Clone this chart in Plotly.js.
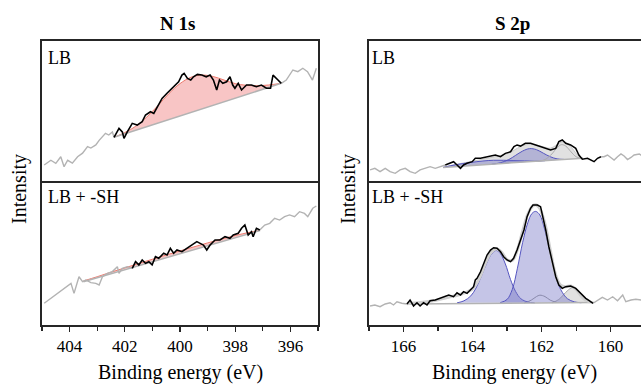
<!DOCTYPE html>
<html><head><meta charset="utf-8">
<script src="https://cdn.plot.ly/plotly-3.0.1.min.js"></script>
<style>html,body{margin:0;padding:0;overflow:hidden;background:#fff}#chart{width:641px;height:385px}</style>
</head><body><div id="chart"></div>
<script>
// ---------- N 1s, LB ----------
const n1LbGrayLeftX = [404.92,404.68,404.5,404.32,404.2,404.07,403.9,403.71,403.53,403.35,403.23,403.05,402.93,402.81,402.7,402.58,402.45,402.39];
const n1LbGrayLeftY = [12.7,16,13.8,18.5,11.5,16,14,18.5,21,25.6,24.6,26.8,30,32.6,35,33.8,36,32.2];
const n1LbBlackX = [402.39,402.21,402.09,402.03,401.91,401.73,401.55,401.37,401.25,401.07,400.95,400.83,400.65,400.47,400.29,400.17,400.05,399.93,399.85,399.73,399.61,399.51,399.37,399.21,399.05,398.91,398.79,398.67,398.57,398.45,398.31,398.19,398.09,398.01,397.89,397.77,397.59,397.41,397.23,397.05,396.87,396.72,396.63,396.45,396.33];
const n1LbBlackY = [32.2,38.5,36,31.5,36,42,40.8,43.2,47.9,50.2,49,53.7,59.6,63.2,66.7,69,71.3,76,77.2,73.7,72.5,74.8,76.5,76,74.8,76,72.5,65.5,72.5,70.2,71.3,74.8,69,66.7,70.2,65.5,69,69,67.8,69,66.7,66.7,76,72.5,70.2];
const n1LbGrayRightX = [396.33,396.15,395.91,395.73,395.55,395.38,395.2,395.06];
const n1LbGrayRightY = [70.2,72.5,79.6,78.4,80.8,78.4,72.5,80.8];
const n1LbBaseX = [402.39,396.33];
const n1LbBaseY = [32.2,70.2];
const n1LbEnvX = [402.39,402.0,401.6,401.2,400.8,400.4,400.0,399.6,399.2,398.8,398.4,398.0,397.6,397.2,396.8,396.33];
const n1LbEnvY = [32.2,35.5,40,46.5,54.5,63,70,74.5,76,75,72.5,70,68.8,68.5,69,70.2];

// ---------- N 1s, LB + -SH ----------
const n1ShGrayLeftX = [404.92,404.68,404.5,404.32,404.2,404.07,403.95,403.84,403.66,403.53,403.41,403.23,403.05,402.93,402.81,402.63,402.45,402.27,402.21,402.09,401.91,401.73];
const n1ShGrayLeftY = [15.3,18.7,21.1,23.5,25.8,27,29.3,22.3,34,30.5,31.7,29.8,29.3,28.2,34,36.4,37.6,41.1,36.4,39.9,41.1,39.9];
const n1ShBlackX = [401.73,401.61,401.49,401.37,401.25,401.13,401.01,400.89,400.77,400.59,400.47,400.35,400.23,400.11,399.93,399.75,399.57,399.39,399.27,399.15,399.03,398.91,398.73,398.55,398.37,398.19,398.07,397.89,397.77,397.65,397.53,397.41,397.35,397.23,397.11];
const n1ShBlackY = [39.9,44.6,42.3,45.8,43.4,44.6,42.3,48.1,47,50.5,49.3,54,50.5,52.8,51.6,54,56.3,58.7,57.5,56.3,52.8,56.3,59.9,59.9,62.2,61,63.4,64.6,68.1,70.4,63.4,65.7,62.2,68.1,66.9];
const n1ShGrayRightX = [397.11,396.93,396.75,396.57,396.39,396.21,396.03,395.85,395.67,395.49,395.37,395.19,395.06];
const n1ShGrayRightY = [66.9,70.4,71.6,75.1,73.9,76.3,77.5,76.3,79.8,78.6,76.3,82.2,83.8];
const n1ShBaseX = [403.5,397.1];
const n1ShBaseY = [30.5,66.5];
const n1ShEnvX = [403.5,403.0,402.5,402.0,401.5,401.0,400.5,400.0,399.5,399.0,398.5,398.0,397.5,397.1];
const n1ShEnvY = [31,34,37.2,40.2,43.3,46.3,49.3,52.2,55,57.8,60.5,63,65.2,66.6];

// ---------- S 2p, LB ----------
const s2LbGrayLeftX = [166.97,166.83,166.68,166.53,166.39,166.24,166.1,165.95,165.81,165.66,165.52,165.37,165.23,165.08,164.94,164.79];
const s2LbGrayLeftY = [9.2,10.3,8,10.3,8,6.8,9.2,10.3,8,6.8,9.2,10.3,11.5,10.3,11.5,12.7];
const s2LbBlackX = [164.79,164.65,164.55,164.45,164.35,164.26,164.16,164.01,163.92,163.77,163.63,163.48,163.34,163.19,163.05,162.9,162.8,162.71,162.61,162.47,162.32,162.17,162.03,161.88,161.74,161.59,161.5,161.4,161.3,161.16,161.01,160.92,160.82,160.67,160.58,160.48,160.38,160.28];
const s2LbBlackY = [12.7,13.9,15,12.7,10.3,12.7,13.9,15,17.4,17.4,18.1,18.5,19.7,18.5,20.9,22,25.6,26.8,26,28,28,26.8,25.6,24.4,23.2,24.4,29.1,30.3,28,26.8,24.4,19.7,16.7,17.4,16.2,15,17.4,18.5];
const s2LbGrayRightX = [160.28,160.19,160.09,159.99,159.9,159.8,159.7,159.61,159.51,159.41,159.32,159.17,159.05];
const s2LbGrayRightY = [18.5,18.5,19.7,18,16.2,18.5,20.5,19,16.5,18,19.7,20.4,18.5];
const s2LbBaseX = [164.85,160.8];
const s2LbBaseY = [11,17.5];
const s2LbEnvX = [164.85,164.5,164.1,163.7,163.3,162.95,162.7,162.45,162.2,161.95,161.75,161.55,161.4,161.25,161.1,160.95,160.8];
const s2LbEnvY = [11,13,14.8,16.8,18.8,21,24.5,27,27,25.5,24.5,27,29,28,24,19.5,17.5];
const s2LbC2X = [164.85,164.5,164.1,163.7,163.4,163.1,162.8,162.5,162.2,161.9];
const s2LbC2Y = [11,12.8,14.3,15.5,16,16,15.8,15.6,15.4,15.7];
const s2LbC1X = [163.45,163.2,162.95,162.75,162.55,162.35,162.15,161.95,161.75,161.55,161.35];
const s2LbC1Y = [13.2,14.2,16.5,19.5,22.5,24.2,23.5,21,18.5,17,16.6];
const s2LbG1X = [162.1,161.9,161.7,161.55,161.42,161.3,161.15,161.0,160.85];
const s2LbG1Y = [15.2,16.5,20.5,25,27,26,22,18.5,17.4];

// ---------- S 2p, LB + -SH ----------
const s2ShGrayLeftX = [166.97,166.83,166.68,166.53,166.39,166.29,166.19,166.05,165.9];
const s2ShGrayLeftY = [13.4,14.1,12.9,14.8,15.7,14.1,16.4,15.3,14.8];
const s2ShBlackX = [165.9,165.81,165.71,165.61,165.52,165.42,165.32,165.23,165.08,164.94,164.79,164.69,164.55,164.45,164.35,164.26,164.16,164.06,163.97,163.92,163.87,163.77,163.68,163.58,163.48,163.39,163.29,163.19,163.1,163.0,162.9,162.81,162.71,162.61,162.51,162.42,162.32,162.25,162.12,162.03,161.96,161.88,161.79,161.69,161.59,161.5,161.4,161.3,161.16,161.01,160.92,160.82,160.72,160.62,160.51];
const s2ShBlackY = [14.8,17.6,13.4,15.7,13.4,15.7,14.1,17.1,17.6,18.8,19.9,21.1,19.9,22.7,21.1,23.5,22.3,24.6,27,31.7,32.9,37.5,43.5,49.3,52.8,54.4,54,51.6,48.1,45.8,44.6,47,52.8,59.9,66.9,76.3,82.2,84.5,84.5,83.3,76.3,66.9,55.1,43.5,34,28.2,25.8,27,27.5,25.8,23.5,21.1,18.8,17.1,15.3];
const s2ShGrayRightX = [160.51,160.38,160.24,160.09,159.94,159.8,159.65,159.56,159.41,159.27,159.12,159.0];
const s2ShGrayRightY = [15.3,17.1,19.5,17.6,19.9,17.1,21.1,16.4,17.6,18.1,17.6,18.5];
const s2ShBaseX = [165.9,160.5];
const s2ShBaseY = [14.8,15.8];
const s2ShEnvX = [165.9,165.5,165.1,164.7,164.3,164.0,163.8,163.6,163.45,163.3,163.15,163.0,162.85,162.7,162.55,162.4,162.25,162.15,162.05,161.9,161.75,161.6,161.45,161.3,161.15,161.0,160.8,160.6];
const s2ShEnvY = [15,15.8,17.2,19.5,22,25.5,33,45,51.5,53.5,51,46,45.5,53,66,78,84,84.5,82,71,53,36,28,27,27.5,25,19,16];
const s2ShCAX = [164.45,164.25,164.05,163.9,163.75,163.6,163.45,163.32,163.2,163.05,162.9,162.75,162.6,162.4,162.2];
const s2ShCAY = [15.6,17,20.5,26,34,43,50,52.5,50.5,43,32,23.5,18.5,16.2,15.6];
const s2ShCBX = [163.2,163.0,162.85,162.7,162.55,162.4,162.28,162.17,162.05,161.93,161.8,161.68,161.55,161.4,161.25,161.05,160.85];
const s2ShCBY = [15.7,18,25,40,58,72,78.5,80,77.5,69,56,43,31,23,18.5,16.3,15.7];
const s2ShG1X = [162.5,162.3,162.15,162.05,161.9,161.75,161.55];
const s2ShG1Y = [15.5,17.5,20,21,20,17.5,15.8];
const s2ShG2X = [161.7,161.5,161.3,161.15,161.05,160.9,160.75,160.6,160.45];
const s2ShG2Y = [15.6,18,23,26,26.5,23,19,16.5,15.8];

// ---------- styling ----------
const GRAY = '#b3b3b3', BLACK = '#000';
const FONT = 'Liberation Serif';
function ln(x, y, xa, ya, color, width, extra) {
  return Object.assign({type:'scatter', mode:'lines', x:x, y:y, xaxis:xa, yaxis:ya,
    line:{color:color, width:width}, hoverinfo:'skip', showlegend:false}, extra || {});
}
function area(x, y, xa, ya, lineColor, fillColor) {
  return ln(x, y, xa, ya, lineColor, 1, {fill:'toself', fillcolor:fillColor, line:{color:lineColor, width:1, shape:'spline'}});
}
const PINK = 'rgba(242,150,150,0.55)', SALMON = '#ee7a6e';
const LAV = 'rgba(110,110,195,0.4)', BLUE = '#5555c0';
const LGRAY = 'rgba(200,200,200,0.55)';

const data = [
  area(n1LbEnvX, n1LbEnvY, 'x2', 'y2', SALMON, PINK),
  ln(n1LbBaseX, n1LbBaseY, 'x2', 'y2', GRAY, 1.5),
  ln(n1LbGrayLeftX, n1LbGrayLeftY, 'x2', 'y2', GRAY, 1.4),
  ln(n1LbGrayRightX, n1LbGrayRightY, 'x2', 'y2', GRAY, 1.4),
  ln(n1LbBlackX, n1LbBlackY, 'x2', 'y2', BLACK, 1.6),
  area(n1ShEnvX, n1ShEnvY, 'x', 'y', SALMON, PINK),
  ln(n1ShBaseX, n1ShBaseY, 'x', 'y', GRAY, 1.5),
  ln(n1ShGrayLeftX, n1ShGrayLeftY, 'x', 'y', GRAY, 1.4),
  ln(n1ShGrayRightX, n1ShGrayRightY, 'x', 'y', GRAY, 1.4),
  ln(n1ShBlackX, n1ShBlackY, 'x', 'y', BLACK, 1.6),
  area(s2LbEnvX, s2LbEnvY, 'x4', 'y4', '#c8c8c8', LGRAY),
  area(s2LbC2X, s2LbC2Y, 'x4', 'y4', BLUE, LAV),
  area(s2LbC1X, s2LbC1Y, 'x4', 'y4', BLUE, LAV),
  ln(s2LbG1X, s2LbG1Y, 'x4', 'y4', '#aaaaaa', 1, {line:{color:'#aaaaaa', width:1, shape:'spline'}}),
  ln(s2LbBaseX, s2LbBaseY, 'x4', 'y4', GRAY, 1.5),
  ln(s2LbGrayLeftX, s2LbGrayLeftY, 'x4', 'y4', GRAY, 1.4),
  ln(s2LbGrayRightX, s2LbGrayRightY, 'x4', 'y4', GRAY, 1.4),
  ln(s2LbBlackX, s2LbBlackY, 'x4', 'y4', BLACK, 1.5),
  area(s2ShG2X, s2ShG2Y, 'x3', 'y3', '#aaaaaa', LGRAY),
  ln(s2ShG1X, s2ShG1Y, 'x3', 'y3', '#9a9a9a', 1, {line:{color:'#9a9a9a', width:1, shape:'spline'}}),
  area(s2ShCAX, s2ShCAY, 'x3', 'y3', BLUE, LAV),
  area(s2ShCBX, s2ShCBY, 'x3', 'y3', BLUE, LAV),
  ln(s2ShBaseX, s2ShBaseY, 'x3', 'y3', GRAY, 1.5),
  ln(s2ShEnvX, s2ShEnvY, 'x3', 'y3', '#cfcfcf', 3, {line:{color:'#cfcfcf', width:3, shape:'spline'}}),
  ln(s2ShGrayLeftX, s2ShGrayLeftY, 'x3', 'y3', GRAY, 1.4),
  ln(s2ShGrayRightX, s2ShGrayRightY, 'x3', 'y3', GRAY, 1.4),
  ln(s2ShBlackX, s2ShBlackY, 'x3', 'y3', BLACK, 1.5)
];

const W = 641, H = 385, L = 42, R = 0, T = 41, B = 325;
const PW = W - L - R, PH = B - T;
const px = v => (v - L) / PW, py = v => (B - v) / PH;
const leftDom = [0, px(318)], rightDom = [px(369), 1];

const LINEC = '#262626', LW = 1.8;
function xax(dom, range, anchor, bottom) {
  const a = {domain:dom, range:range, anchor:anchor, showline:true, linecolor:LINEC, linewidth:LW,
    showgrid:false, zeroline:false, fixedrange:true, tickmode:'linear', tick0:0, dtick:2};
  if (bottom) {
    Object.assign(a, {mirror:true, ticks:'outside', ticklen:5, tickwidth:1.3, tickcolor:LINEC, showticklabels:true,
      tickfont:{family:FONT, size:17, color:'#000'},
      minor:{dtick:1, tick0:0, ticks:'outside', ticklen:4, tickwidth:1.2, tickcolor:LINEC, showgrid:false}});
  } else {
    Object.assign(a, {side:'top', mirror:false, ticks:'', showticklabels:false});
  }
  return a;
}
function yax(dom, anchor, mirror) {
  return {domain:dom, range:[0,100], anchor:anchor, showline:true, mirror:mirror, linecolor:LINEC, linewidth:LW,
    showgrid:false, zeroline:false, ticks:'', showticklabels:false, fixedrange:true};
}
function ann(text, x, y, size, opts) {
  return Object.assign({text:text, x:px(x), y:py(y), xref:'paper', yref:'paper', showarrow:false,
    xanchor:'center', yanchor:'middle', font:{family:FONT, size:size, color:'#000'}}, opts || {});
}

const layout = {
  width:W, height:H, margin:{l:L, r:R, t:T, b:H - B, pad:0},
  font:{family:FONT, color:'#000'},
  paper_bgcolor:'#fff', plot_bgcolor:'rgba(0,0,0,0)', showlegend:false,
  xaxis: xax(leftDom, [405,395], 'y', true),
  yaxis: yax([0,0.5], 'x', true),
  xaxis2: xax(leftDom, [405,395], 'y2', false),
  yaxis2: yax([0.5,1], 'x2', true),
  xaxis3: xax(rightDom, [167,159.12], 'y3', true),
  yaxis3: yax([0,0.5], 'x3', false),
  xaxis4: xax(rightDom, [167,159.12], 'y4', false),
  yaxis4: yax([0.5,1], 'x4', false),
  annotations: [
    ann('<b>N 1s</b>', 177, 24, 19),
    ann('<b>S 2p</b>', 512, 24, 19),
    ann('Intensity', 19, 189, 20, {textangle:-90}),
    ann('Intensity', 348, 189, 20, {textangle:-90}),
    ann('Binding energy (eV)', 180, 372, 20),
    ann('Binding energy (eV)', 514, 372, 20),
    ann('LB', 46, 58, 18, {xanchor:'left'}),
    ann('LB', 370, 58, 18, {xanchor:'left'}),
    ann('LB + -SH', 46, 197, 18, {xanchor:'left'}),
    ann('LB + -SH', 370, 197, 18, {xanchor:'left'})
  ]
};

Plotly.newPlot('chart', data, layout, {staticPlot:true, displayModeBar:false});
</script>
</body></html>
